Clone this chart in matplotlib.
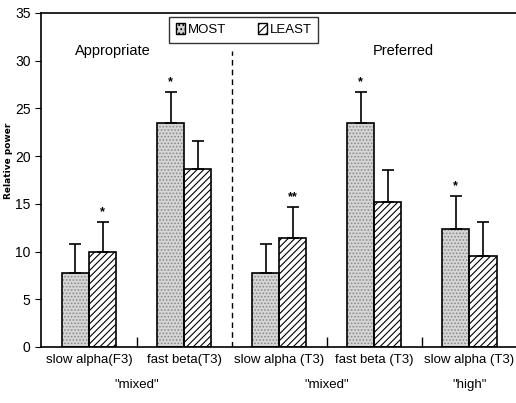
import numpy as np
import matplotlib.pyplot as plt
from matplotlib.patches import Patch

# Data

categories = ['slow alpha(F3)', 'fast beta(T3)', 'slow alpha (T3)',
              'fast beta (T3)', 'slow alpha (T3)']
most = [7.8, 23.5, 7.8, 23.5, 12.4]
most_err = [3.0, 3.2, 3.0, 3.2, 3.4]
least = [10.0, 18.6, 11.4, 15.2, 9.5]
least_err = [3.1, 3.0, 3.3, 3.3, 3.6]
most_stars = ['', '*', '', '*', '*']
least_stars = ['*', '', '**', '', '']
group_labels = ['"mixed"', '"mixed"', '"high"']
group_pos = [0.5, 2.5, 4.0]

plt.rcParams['font.family'] = ['Liberation Sans', 'DejaVu Sans']
plt.rcParams['hatch.linewidth'] = 0.8

fig = plt.figure(figsize=(5.16, 4.03), dpi=100)
ax = fig.add_axes([0.0795, 0.139, 0.9205, 0.829])

x = np.arange(len(categories))
w = 0.285

# stippled gray fill for MOST: gray dots first, black outline on top
ax.bar(x - w / 2, most, w, color='#d6d6d6', edgecolor='#8a8a8a',
       linewidth=0, hatch='.....', zorder=2)
ax.bar(x - w / 2, most, w, fill=False, edgecolor='black',
       linewidth=1.2, zorder=2.1)
ax.bar(x + w / 2, least, w, color='white', edgecolor='black',
       linewidth=1.2, hatch='/////', zorder=2)

# upper error bars only
ax.errorbar(x - w / 2, most, yerr=[np.zeros(5), most_err], fmt='none',
            ecolor='black', elinewidth=1.2, capsize=4, capthick=1.2, zorder=3)
ax.errorbar(x + w / 2, least, yerr=[np.zeros(5), least_err], fmt='none',
            ecolor='black', elinewidth=1.2, capsize=4, capthick=1.2, zorder=3)

for i in range(len(categories)):
    if most_stars[i]:
        ax.text(x[i] - w / 2, most[i] + most_err[i] + 1.0, most_stars[i],
                ha='center', va='center', fontsize=9, fontweight='bold')
    if least_stars[i]:
        ax.text(x[i] + w / 2, least[i] + least_err[i] + 1.0, least_stars[i],
                ha='center', va='center', fontsize=9, fontweight='bold')

# dashed divider, starts below the legend
ax.vlines(1.5, 0, 31, color='black', linestyle=(0, (4, 3)), linewidth=1.0)

ax.set_xlim(-0.505, 4.49)
ax.set_ylim(0, 35)
ax.set_yticks(range(0, 36, 5))
ax.set_xticks(x)
ax.set_xticklabels(categories, fontsize=9.5)
ax.tick_params(axis='x', length=0, pad=5)
ax.tick_params(axis='y', direction='out', length=4, labelsize=10)
ax.set_xticks([0.5, 2.5, 3.5], minor=True)
ax.tick_params(axis='x', which='minor', direction='in', length=7, width=1)

for s in ['left', 'bottom', 'top']:
    ax.spines[s].set_linewidth(1.2)
ax.spines['right'].set_visible(False)

for gl, gp in zip(group_labels, group_pos):
    ax.text(gp, -4.0, gl, ha='center', va='center', fontsize=9.5)

ax.text(0.25, 31.0, 'Appropriate', ha='center', va='center', fontsize=10.5)
ax.text(3.3, 31.0, 'Preferred', ha='center', va='center', fontsize=10.5)

ax.set_ylabel('Relative power', fontsize=6.5, fontweight='bold',
              family='DejaVu Sans')
ax.yaxis.set_label_coords(-0.059, 0.557)

handles = [Patch(facecolor='#d2d2d2', edgecolor='black', hatch='....'),
           Patch(facecolor='white', edgecolor='black', hatch='////')]
leg = ax.legend(handles, ['MOST', 'LEAST'], ncol=2, loc='center',
                bbox_to_anchor=(0.427, 0.949), fancybox=False,
                edgecolor='black', handlelength=0.7, handleheight=0.9,
                handletextpad=0.2, columnspacing=2.4, fontsize=9.5,
                borderpad=0.5)
leg.get_frame().set_linewidth(1.0)

plt.savefig('out.png', dpi=100)
